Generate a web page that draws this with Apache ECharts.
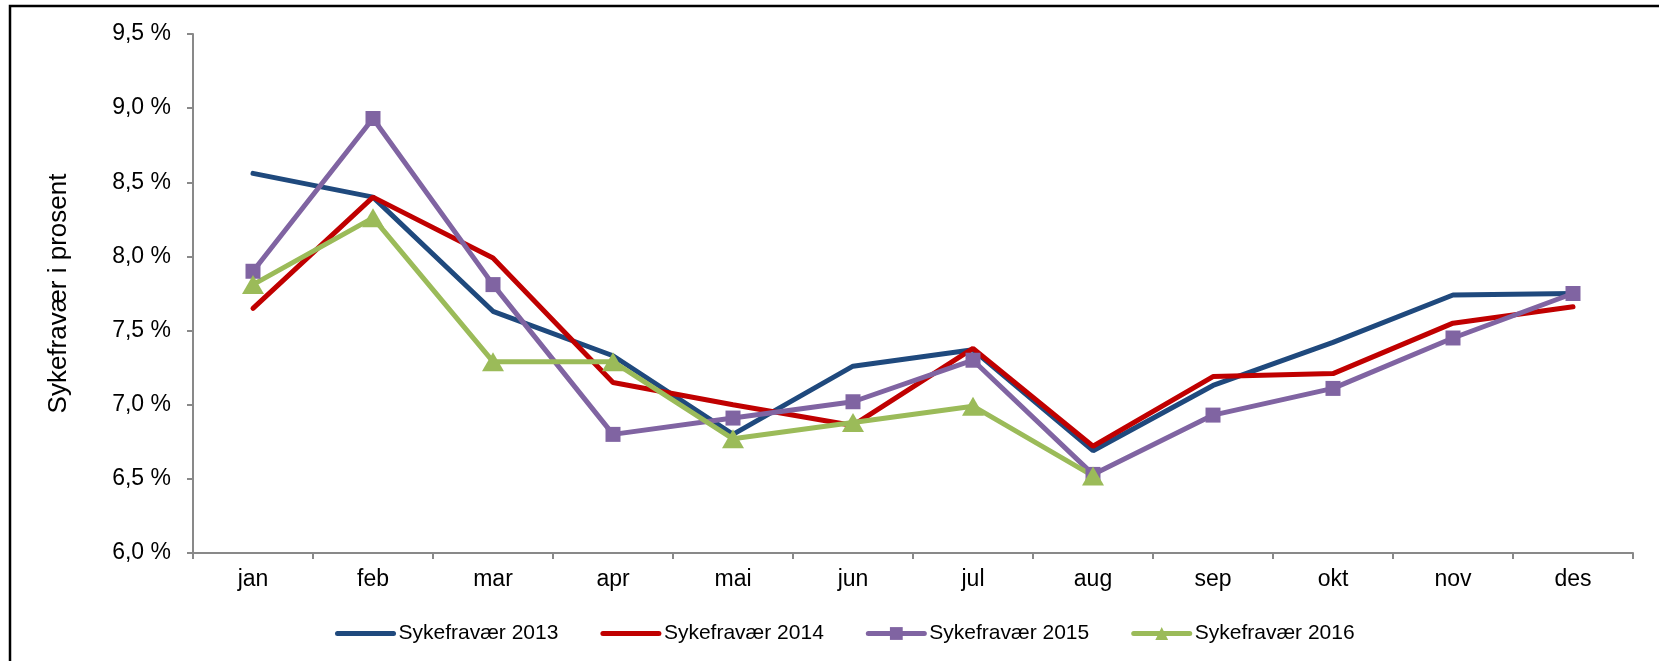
<!DOCTYPE html>
<html>
<head>
<meta charset="utf-8">
<script src="https://cdn.jsdelivr.net/npm/echarts@6/dist/echarts.min.js"></script>
<style>
  html, body { margin: 0; padding: 0; background: #fff; }
  #chart { width: 1659px; height: 661px; }
</style>
</head>
<body>
<div id="chart"></div>
<script>
// months
const months = ['jan', 'feb', 'mar', 'apr', 'mai', 'jun', 'jul', 'aug', 'sep', 'okt', 'nov', 'des'];

// sickness absence in percent
const fravaer2013 = [8.56, 8.40, 7.63, 7.33, 6.80, 7.26, 7.37, 6.69, 7.13, 7.42, 7.74, 7.75];
const fravaer2014 = [7.65, 8.40, 7.99, 7.15, 7.00, 6.86, 7.38, 6.72, 7.19, 7.21, 7.55, 7.66];
const fravaer2015 = [7.90, 8.93, 7.81, 6.80, 6.91, 7.02, 7.30, 6.53, 6.93, 7.11, 7.45, 7.75];
const fravaer2016 = [7.81, 8.26, 7.29, 7.29, 6.77, 6.88, 6.99, 6.52];

const seriesNames = ['Sykefravær 2013', 'Sykefravær 2014', 'Sykefravær 2015', 'Sykefravær 2016'];

const font = 'Liberation Sans, Arial, sans-serif';
const axisGrey = '#898989';

const chart = echarts.init(document.getElementById('chart'));

chart.setOption({
  animation: false,
  textStyle: { fontFamily: font },
  graphic: [{
    type: 'rect',
    shape: { x: 10, y: 6, width: 1700, height: 700 },
    style: { fill: 'none', stroke: '#000', lineWidth: 2.5 },
    silent: true
  }],
  grid: { left: 193, right: 26, top: 34, bottom: 108 },
  legend: {
    // plain lines for the first two series, no marker
    data: [
      { name: seriesNames[0], itemStyle: { opacity: 0 } },
      { name: seriesNames[1], itemStyle: { opacity: 0 } },
      { name: seriesNames[2] },
      { name: seriesNames[3] }
    ],
    left: 335,
    top: 623,
    padding: 0,
    itemWidth: 56,
    itemHeight: 16,
    itemGap: 42,
    lineStyle: { width: 5, cap: 'round' },
    textStyle: { fontSize: 21, color: '#000', fontFamily: font }
  },
  xAxis: {
    type: 'category',
    data: months,
    boundaryGap: true,
    axisLine: { lineStyle: { color: axisGrey, width: 2 } },
    axisTick: { show: true, length: 6, lineStyle: { color: axisGrey, width: 2 } },
    axisLabel: { fontSize: 23, color: '#000', margin: 15 }
  },
  yAxis: {
    type: 'value',
    min: 6.0,
    max: 9.5,
    interval: 0.5,
    name: 'Sykefravær i prosent',
    nameLocation: 'middle',
    nameGap: 121,
    nameTextStyle: { fontSize: 26, color: '#000' },
    axisLine: { show: true, lineStyle: { color: axisGrey, width: 2 } },
    axisTick: { show: true, length: 6, lineStyle: { color: axisGrey, width: 2 } },
    splitLine: { show: false },
    axisLabel: {
      fontSize: 23,
      color: '#000',
      margin: 22,
      formatter: v => v.toFixed(1).replace('.', ',') + ' %'
    }
  },
  series: [
    {
      name: seriesNames[0],
      type: 'line',
      data: fravaer2013,
      symbol: 'none',
      itemStyle: { color: '#1F497D' },
      lineStyle: { width: 5, color: '#1F497D', cap: 'round' }
    },
    {
      name: seriesNames[1],
      type: 'line',
      data: fravaer2014,
      symbol: 'none',
      itemStyle: { color: '#C00000' },
      lineStyle: { width: 5, color: '#C00000', cap: 'round' }
    },
    {
      name: seriesNames[2],
      type: 'line',
      data: fravaer2015,
      symbol: 'rect',
      symbolSize: 15,
      itemStyle: { color: '#8064A2' },
      lineStyle: { width: 5, color: '#8064A2', cap: 'round' }
    },
    {
      name: seriesNames[3],
      type: 'line',
      data: fravaer2016,
      symbol: 'triangle',
      symbolSize: [22, 19],
      itemStyle: { color: '#9BBB59' },
      lineStyle: { width: 5, color: '#9BBB59', cap: 'round' }
    }
  ]
});
</script>
</body>
</html>
